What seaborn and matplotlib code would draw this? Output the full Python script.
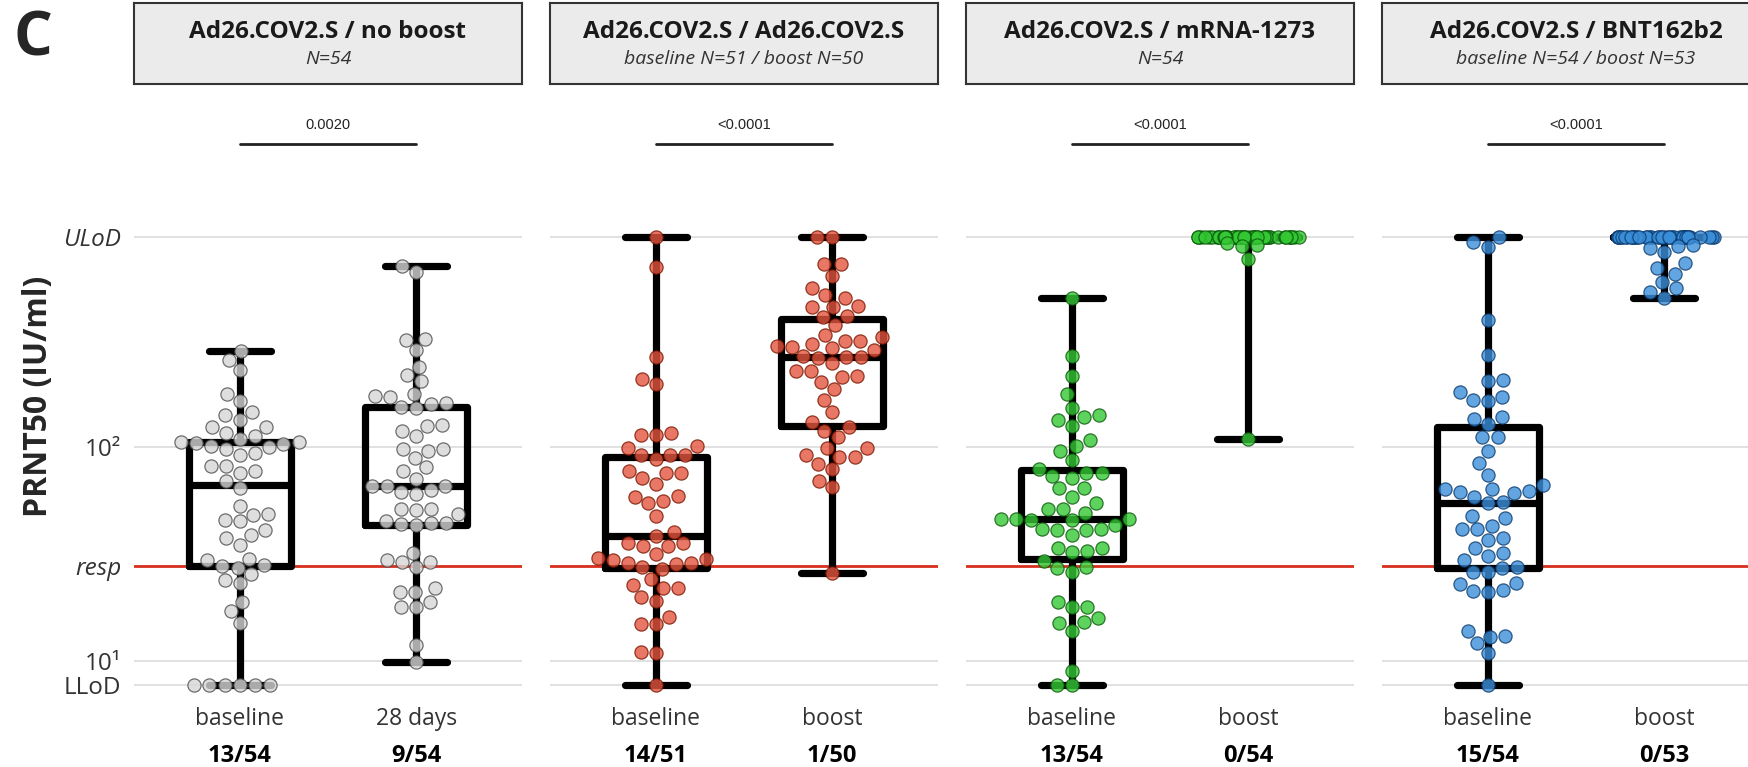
import numpy as np
import pandas as pd
import matplotlib
matplotlib.use("Agg")
import matplotlib.pyplot as plt
import matplotlib.transforms as mtransforms
from matplotlib.ticker import NullLocator
import seaborn as sns

# limits used on the y axis
LLOD = 7.7
RESP = 27.7
ULOD = 957

# Ad26.COV2.S / no boost
nb_baseline = [279, 255, 229, 177, 164, 146, 141, 134, 124, 124, 116, 112,
               99.3, 104, 101, 108.6, 104.7, 103.3, 104.7, 97.5,
               93.4, 91.8, 81, 81, 77.4, 75.3, 68.9, 64.1,
               52.6, 48.6, 48.1, 45.6, 44.8, 40.9, 38.8, 37.4, 34.8,
               29.8, 29.4, 27.8, 27.9, 27.0,
               25.4, 23.9, 23.0, 18.9, 17.0, 15.0] + [LLOD] * 6
nb_28d = [700, 655, 320, 315, 282, 237, 216, 202, 176, 173, 171, 160, 158, 153, 151,
          126, 125, 119, 112, 98, 96, 98, 89, 80, 77, 71, 65.5, 65.4, 65.3,
          62.5, 61.2, 60.1, 51.4, 50.9, 50.4, 48.5, 45.2, 43.8, 43.4, 43.1, 44.0,
          31.8, 29.7, 28.8, 28.8, 27.3, 21.9, 20.9, 20.9, 18.9, 17.9, 17.9, 11.9, 9.9]

# Ad26.COV2.S / Ad26.COV2.S
aa_baseline = [ULOD, 694, 262, 208, 196, 116, 114, 114, 101, 99, 91.8, 91.8, 91, 87.7,
               77, 75.6, 75, 71.3, 66.7, 58.7, 58, 55.8, 54.3, 47.4, 39.8, 38.3,
               35.4, 35.4, 34.4, 34.4, 31.5, 30.3, 29.9, 29.7, 28.6, 28.6, 28.4, 27.3,
               26.7, 24.0, 22.6, 21.8, 21.8, 19.8, 19.0, 16.0, 14.8, 14.8, 11.0, 10.9, LLOD]
aa_boost = [ULOD, ULOD, 716, 716, 630, 553, 512, 493, 456, 449, 449, 410, 402, 370,
            331, 325, 313, 313, 301, 295, 292, 289, 284, 264, 262, 261, 263,
            245, 226, 226, 214, 212, 200, 186, 166, 146, 130, 123, 118, 111,
            99, 99, 91, 90, 90, 83, 78.5, 69.4, 64.7, 25.6]

# Ad26.COV2.S / mRNA-1273
am_baseline = [498, 266, 213, 176, 152, 141, 138, 134, 125, 107, 101, 96, 87, 79, 75, 75,
               73, 71.7, 63.8, 63.8, 58.5, 54.5, 51.4, 51.4, 48.9,
               45.9, 45.3, 45.7, 45.7, 45.5, 43.1, 41.1, 41.0, 40.6, 41.2, 38.6,
               33.8, 33.8, 32.7, 32.1, 29.1, 27.3, 27.0, 25.9, 18.9, 17.9, 17.9, 15.9,
               15.1, 15.0, 13.8, 9.0, LLOD, LLOD]
am_boost = [ULOD] * 49 + [896, 879, 871, 757, 109]

# Ad26.COV2.S / BNT162b2
ab_baseline = [ULOD, 906, 861, 389, 269, 206, 202, 180, 171, 166, 163, 137, 135, 128, 111, 111,
               96, 83.8, 74, 66.2, 63.3, 63.3, 62.4, 61.5, 60.8, 58.5, 54.9, 54.5,
               47.5, 46.6, 42.7, 41.4, 41.1, 37.6, 36.8, 33.8, 31.8, 30.9, 29.7,
               27.3, 27.1, 26.1, 25.9, 23.0, 22.9, 21.3, 20.9, 21.1,
               13.8, 13.1, 12.9, 12.1, 10.9, LLOD]
ab_boost = [ULOD] * 42 + [880, 866, 845, 812, 723, 681, 643, 589, 549, 527, 498]

titles = ["Ad26.COV2.S / no boost", "Ad26.COV2.S / Ad26.COV2.S",
          "Ad26.COV2.S / mRNA-1273", "Ad26.COV2.S / BNT162b2"]
subtitles = ["N=54", "baseline N=51 / boost N=50", "N=54", "baseline N=54 / boost N=53"]
time_labels = [["baseline", "28 days"], ["baseline", "boost"],
               ["baseline", "boost"], ["baseline", "boost"]]
groups = [(nb_baseline, nb_28d), (aa_baseline, aa_boost),
          (am_baseline, am_boost), (ab_baseline, ab_boost)]
p_values = ["0.0020", "<0.0001", "<0.0001", "<0.0001"]
fills = ["#d6d6d6", "#e4553f", "#35c935", "#3b8fd9"]
edges = ["#4d4d4d", "#7a1500", "#0a5a0a", "#0b3a6e"]
ulod_rows = [False, False, True, True]

y_ticks = [LLOD, 10, RESP, 100, ULOD]
y_labels = ["LLoD", "10\u00b9", "resp", "10\u00b2", "ULoD"]

sns.set_style("white")
plt.rcParams["font.family"] = ["Open Sans", "DejaVu Sans"]

W, H = 1749, 767
fig = plt.figure(figsize=(W / 100, H / 100), dpi=100)

PANEL_LEFT = [134, 550, 966, 1382]
PANEL_W = 388
AX_TOP, AX_BOT = 100, 693.6
DEC = 214          # pixels per decade
LLOD_PX = 685


def px_to_val(px):
    return 10 ** (np.log10(LLOD) + (LLOD_PX - px) / DEC)


np.random.seed(3)

for i in range(4):
    labs = time_labels[i]
    a, b = groups[i]
    df = pd.DataFrame({"time": [labs[0]] * len(a) + [labs[1]] * len(b),
                       "titer": list(a) + list(b)})

    ax = fig.add_axes([PANEL_LEFT[i] / W, 1 - AX_BOT / H,
                       PANEL_W / W, (AX_BOT - AX_TOP) / H])
    ax.axhline(RESP, color="#d7301f", lw=2, zorder=1)

    sns.boxplot(data=df, x="time", y="titer", order=labs, fill=False, color="black",
                linewidth=5.2, width=0.58, whis=(0, 100), showfliers=False,
                log_scale=True, capwidths=0.35, ax=ax, zorder=2)

    if ulod_rows[i]:
        row = (df["time"] == labs[1]) & (df["titer"] == ULOD)
        sns.stripplot(data=df[row], x="time", y="titer", order=labs, jitter=0.3,
                      size=9.5, color=fills[i], edgecolor=edges[i], linewidth=0.9,
                      alpha=0.8, log_scale=True, ax=ax, zorder=3)
        sw = df[~row]
    else:
        sw = df
    sns.swarmplot(data=sw, x="time", y="titer", order=labs, size=9.5,
                  color=fills[i], edgecolor=edges[i], linewidth=0.9, alpha=0.8,
                  log_scale=True, ax=ax, zorder=3)

    ax.set_xlim(-0.6, 1.6)
    ax.set_ylim(px_to_val(AX_BOT), px_to_val(AX_TOP))
    ax.yaxis.set_minor_locator(NullLocator())
    ax.set_yticks(y_ticks)
    ax.yaxis.grid(True, color="#dcdcdc", lw=1.2)
    ax.set_axisbelow(True)
    for s in ax.spines.values():
        s.set_visible(False)
    ax.tick_params(length=0)
    ax.set_xlabel("")
    ax.set_ylabel("")
    ax.set_xticks([0, 1])
    ax.set_xticklabels([])
    if i == 0:
        ax.set_yticklabels(y_labels, fontsize=17.5, color="#333333")
        for t in ax.get_yticklabels():
            if t.get_text() in ("resp", "ULoD"):
                t.set_style("italic")
        ax.tick_params(axis="y", pad=9)
    else:
        ax.set_yticklabels([])

    # group names and non-responder counts under the axis
    trans = mtransforms.blended_transform_factory(ax.transData, ax.transAxes)
    for k, vals in enumerate((a, b)):
        vals = np.asarray(vals)
        ax.text(k, -(719 - AX_BOT) / (AX_BOT - AX_TOP), labs[k], transform=trans,
                ha="center", va="center", fontsize=16.5, color="#333333")
        ax.text(k, -(756 - AX_BOT) / (AX_BOT - AX_TOP),
                f"{(vals < RESP).sum()}/{len(vals)}", transform=trans,
                ha="center", va="center", fontsize=17, weight="bold", color="black")

    # p-value bracket
    yb = px_to_val(144)
    ax.plot([0, 1], [yb, yb], color="#222222", lw=2, clip_on=False, zorder=4)
    ax.text(0.5, px_to_val(125), p_values[i], ha="center", va="center",
            fontsize=10.5, family="Liberation Sans", color="#222222")

    # strip header
    sax = fig.add_axes([PANEL_LEFT[i] / W, 1 - 84 / H, PANEL_W / W, 81 / H])
    sax.set_facecolor("#ebebeb")
    sax.set_xticks([])
    sax.set_yticks([])
    for s in sax.spines.values():
        s.set_color("#333333")
        s.set_linewidth(1.5)
    sax.text(0.5, 0.64, titles[i], ha="center", va="center", fontsize=17.5,
             weight="bold", color="#1a1a1a", transform=sax.transAxes)
    sax.text(0.5, 0.31, subtitles[i], ha="center", va="center", fontsize=14,
             style="italic", color="#333333", transform=sax.transAxes)

fig.text(39 / W, 1 - 396 / H, "PRNT50 (IU/ml)", rotation=90, ha="center", va="center",
         fontsize=23, weight="bold")
fig.text(33 / W, 1 - 40 / H, "C", ha="center", va="center", fontsize=44, weight="bold")

fig.savefig("out.png", dpi=100)
